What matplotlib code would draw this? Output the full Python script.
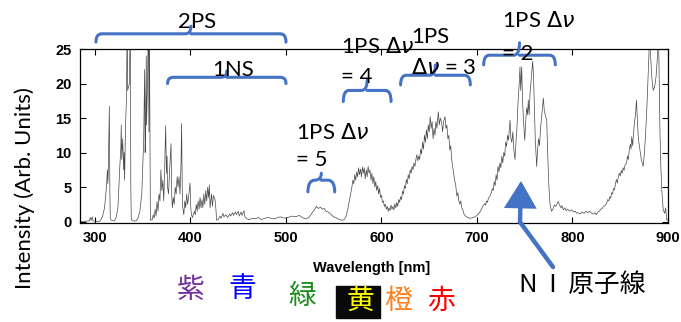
import matplotlib
matplotlib.use("Agg")
import matplotlib.pyplot as plt
from matplotlib.path import Path
from matplotlib.patches import PathPatch, FancyArrowPatch, Rectangle

# emission spectrum (nm, arb. units); values above 25 are clipped
wavelength = [
    285, 290, 294, 295, 296, 297, 298, 300, 304, 306,
    308, 310, 311, 312, 313, 313.5, 314, 315, 315.6, 316,
    317, 320, 322, 324, 325, 326, 327, 327.5, 328, 329,
    330, 330.5, 331, 332, 333, 333.7, 334.2, 336, 337, 337.5,
    338, 340, 343, 345, 347, 349, 350, 351, 352, 352.5,
    353, 353.7, 354, 355, 356, 356.5, 357, 358, 360, 361,
    362, 363, 364, 365, 366, 367, 368, 369, 370, 371,
    372, 373, 374, 374.8, 375.5, 376, 377, 378, 379.6, 380.3,
    381, 382, 383, 384, 385, 386, 387, 388, 389, 390,
    390.7, 391.5, 392, 393, 394, 395, 396, 397, 398, 399.5,
    400.3, 401, 402, 404, 405, 406, 407, 408, 409, 410,
    411, 412, 413, 414, 415, 416, 417, 418, 419, 419.7,
    420.5, 422, 423, 424, 425.7, 426.5, 427.4, 429, 431, 432,
    434, 435, 437, 439, 441, 442, 444, 445, 447, 448,
    450, 451, 453, 454, 456, 457, 459, 462, 465, 468,
    471, 474, 478, 482, 486, 490, 494, 498, 502, 506,
    510, 514, 517, 520, 524, 527, 530, 532, 534, 536,
    538, 540, 542, 544, 546, 548, 550, 553, 556, 559,
    561, 563, 565, 567, 568, 569, 570, 571, 572, 573,
    574, 575, 576, 577, 578, 579, 580, 581, 582, 583,
    584, 585, 586, 587, 588, 589, 590, 591, 592, 593,
    594, 595, 596, 597, 598, 599, 600, 601, 602, 603,
    604, 605, 606, 607, 608, 609, 610, 611, 612, 613,
    614, 615, 616, 617, 618, 619, 620, 621, 622, 623,
    624, 625, 626, 627, 628, 629, 630, 631, 632, 633,
    634, 635, 636, 637, 638, 639, 640, 641, 642, 643,
    644, 645, 646, 647, 648, 649, 650, 651, 652, 653,
    654, 655, 656, 657, 658, 659.5, 660.5, 661.5, 663, 664,
    665, 666.5, 667.5, 668.5, 669.5, 670.5, 671.5, 672.5, 673.5, 674.5,
    675.5, 676.5, 677.5, 679, 680, 681, 682, 683, 684, 685,
    686, 687, 688, 690, 692, 694, 696, 698, 700, 702,
    704, 706, 708, 709, 710, 711, 712, 713.6, 715, 716,
    717, 718, 719, 720, 721, 722, 723, 724, 725, 726,
    727, 728, 729, 730, 731, 732, 733, 734.6, 735.5, 736.5,
    737.5, 738.5, 739.8, 740.8, 741.8, 742.5, 743.3, 744.2, 745, 745.8,
    746.8, 747.6, 748.5, 749.2, 750, 751, 752, 753, 753.7, 754.6,
    755.5, 756.4, 757.4, 758.3, 759.2, 760, 761, 762.5, 763.5, 764.5,
    765.5, 766.5, 767.5, 768.5, 769.5, 770.5, 771.5, 773, 774, 775,
    775.7, 776.5, 778, 779.5, 781, 782.5, 784, 785, 786.5, 788,
    789, 790.4, 792, 793.5, 795, 797, 799, 801, 803, 804.5,
    806, 808, 810, 812, 814, 816, 818, 820, 822, 823.5,
    825, 826.5, 828, 829.5, 831, 832.5, 834, 835.8, 837, 838,
    839, 840, 841, 842, 843, 844, 845, 846, 847, 848,
    849, 850, 851, 852, 853, 854, 855, 856.7, 857.5, 858.5,
    859.5, 860.5, 861.3, 862, 863, 864, 865, 866, 867, 868,
    869, 870, 871, 872, 873, 874, 875, 876, 877, 878,
    879, 880, 881, 881.8, 883, 884.5, 886, 887.5, 889, 889.8,
    890.6, 891.6, 892.5, 893.5, 895, 896.5, 897.5, 898.6, 900,
]
intensity = [
    0.0, 0.05, 0.1, 0.6, 0.2, 0.7, 0.1, 0.05, 0.0, 0.2,
    0.8, 2.0, 3.5, 5.0, 7.5, 5.5, 8.0, 16.7, 4.0, 0.5,
    0.2, 0.1, 0.5, 2.0, 5.0, 8.0, 10.5, 14.0, 9.0, 12.0,
    7.5, 10.0, 6.0, 14.0, 18.0, 30, 19, 20, 30, 5,
    0.3, 0.1, 0.1, 0.5, 1.5, 4.0, 8.0, 12, 22, 10,
    13, 24, 14, 20, 30, 13, 28, 0.2, 0.3, 1.0,
    0.5, 1.8, 0.8, 2.9, 1.5, 4.0, 3.0, 7.5, 4.5, 6.0,
    3.0, 8.0, 13.9, 7.0, 9.5, 5.0, 4.0, 7.0, 11.3, 4.0,
    2.0, 3.5, 2.5, 5.0, 4.0, 6.5, 5.0, 6.5, 4.0, 8.0,
    14.2, 3.0, 2.0, 1.0, 3.0, 2.0, 4.0, 2.5, 3.5, 5.6,
    2.0, 1.0, 0.6, 1.5, 1.0, 2.5, 1.5, 3.0, 1.8, 3.5,
    2.0, 3.2, 2.0, 4.0, 2.5, 4.5, 3.0, 5.0, 3.5, 5.3,
    2.0, 4.0, 2.2, 3.8, 3.2, 2.0, 0.2, 0.3, 0.8, 0.5,
    1.2, 0.7, 1.0, 0.6, 1.1, 0.8, 1.3, 0.9, 1.4, 1.0,
    1.5, 0.8, 1.4, 0.9, 1.6, 0.7, 0.4, 0.3, 0.5, 0.4,
    0.6, 0.3, 0.5, 0.6, 0.4, 0.5, 0.7, 0.5, 0.6, 0.8,
    0.7, 0.9, 0.6, 0.4, 0.6, 1.2, 1.8, 2.2, 1.9, 2.1,
    1.8, 1.9, 1.5, 1.4, 1.2, 0.9, 0.7, 0.5, 0.3, 0.2,
    0.3, 0.8, 2.0, 3.5, 4.2, 5.0, 6.0, 5.5, 6.8, 6.0,
    7.2, 6.5, 7.8, 6.8, 7.6, 6.5, 7.9, 7.0, 7.8, 6.2,
    7.5, 6.5, 8.0, 7.0, 7.5, 6.0, 7.0, 5.5, 6.5, 5.0,
    5.8, 4.5, 5.2, 4.0, 4.8, 3.5, 3.8, 2.8, 3.0, 2.2,
    2.5, 1.8, 2.2, 1.5, 2.0, 1.6, 2.4, 1.8, 2.2, 1.7,
    2.6, 2.0, 2.8, 2.2, 3.2, 2.8, 3.6, 3.2, 4.4, 4.0,
    5.2, 4.8, 6.1, 5.5, 6.8, 6.2, 7.5, 7.0, 8.0, 7.5,
    8.5, 8.0, 9.0, 9.7, 8.8, 9.5, 9.0, 10.5, 9.8, 11.5,
    10.5, 12.5, 11.5, 13.3, 12.0, 14.0, 13.0, 15.2, 13.5, 14.5,
    12.0, 13.5, 12.5, 14.5, 13.5, 15.9, 14.0, 15.0, 14.3, 13.0,
    14.5, 15.2, 13.5, 14.0, 12.0, 12.5, 10.4, 11.0, 9.0, 8.0,
    7.0, 6.0, 5.5, 3.7, 4.2, 3.0, 2.5, 3.0, 2.0, 1.8,
    1.2, 1.0, 0.8, 0.6, 0.5, 0.5, 0.6, 0.7, 0.9, 1.2,
    1.6, 2.2, 2.6, 2.4, 3.0, 2.8, 3.4, 3.7, 4.2, 4.8,
    4.5, 5.8, 5.2, 6.8, 6.0, 8.0, 7.2, 8.5, 7.8, 9.5,
    8.5, 10.0, 9.5, 11.5, 10.9, 12.5, 11.8, 14.7, 12.0, 11.5,
    13.0, 10.5, 9.0, 11.5, 13.5, 16.0, 18.1, 20.0, 22.4, 19.0,
    22.4, 18.0, 15.0, 13.5, 11.8, 14.5, 16.5, 15.5, 17.6, 15.5,
    18.5, 20.0, 21.5, 23.2, 21.0, 17.0, 12.0, 8.0, 10.5, 12.0,
    11.0, 13.5, 15.0, 16.5, 17.9, 16.0, 15.5, 14.7, 10.0, 6.0,
    4.1, 2.5, 1.5, 1.8, 2.4, 2.2, 2.6, 2.9, 2.4, 2.0,
    2.3, 1.7, 2.0, 1.6, 1.8, 1.5, 1.7, 1.4, 1.5, 1.2,
    1.3, 1.1, 1.4, 1.2, 1.5, 1.3, 1.5, 1.2, 1.1, 1.3,
    1.0, 1.4, 1.5, 1.8, 1.9, 2.2, 2.3, 2.7, 3.2, 3.0,
    3.6, 3.4, 4.2, 4.0, 4.8, 4.6, 5.5, 6.1, 5.6, 6.5,
    7.0, 6.6, 7.4, 7.0, 7.8, 7.4, 8.2, 8.5, 9.5, 9.0,
    10.5, 11.2, 10.5, 12.3, 11.0, 13.0, 14.5, 15.5, 17.6, 14.5,
    12.0, 11.0, 10.0, 9.0, 8.5, 8.0, 9.5, 11.5, 14.0, 17.0,
    20.5, 24.0, 30, 24, 21, 19, 19.5, 21, 24, 30,
    22, 12.8, 8, 4.5, 1.7, 1.2, 2.0, 0.3, 0.2,
]

x_ticks = [300, 400, 500, 600, 700, 800, 900]
y_ticks = [0, 5, 10, 15, 20, 25]

# band systems: (start nm, end nm) of the blue braces
band_ranges = {
    "2PS": (301, 500),
    "1NS": (376, 500),
    "dv5": (523, 551),
    "dv4": (560, 610),
    "dv3": (620, 693),
    "dv2": (707, 782),
}

color_words = ["紫", "青", "緑", "黄", "橙", "赤"]
color_codes = ["#7030A0", "#0000FF", "#1E8C1E", "#FFFF00", "#FF7F1E", "#FF0000"]

W, H = 681, 322
BLUE = "#4472C4"
LABEL_FONT = ["Lato", "DejaVu Sans"]
CJK_FONT = ["Noto Sans CJK JP", "DejaVu Sans"]


def fig_xy(px, py):
    # pixel position in the picture -> figure fraction
    return px / W, 1 - py / H


def brace(ax, x0, x1, y_line, y_end, y_notch, r):
    xc = (x0 + x1) / 2
    verts = [(x0, y_end), (x0, y_line), (x0 + r, y_line),
             (xc - r, y_line), (xc, y_line), (xc, y_notch),
             (xc, y_line), (xc + r, y_line),
             (x1 - r, y_line), (x1, y_line), (x1, y_end)]
    codes = [Path.MOVETO, Path.CURVE3, Path.CURVE3,
             Path.LINETO, Path.CURVE3, Path.CURVE3,
             Path.MOVETO, Path.CURVE3,
             Path.LINETO, Path.CURVE3, Path.CURVE3]
    ax.add_patch(PathPatch(Path(verts, codes), facecolor="none", edgecolor=BLUE,
                           lw=2.2, clip_on=False, capstyle="round", zorder=5))


fig = plt.figure(figsize=(W / 100, H / 100), dpi=100)
ax = fig.add_axes([80 / W, 1 - 223 / H, (668 - 80) / W, (223 - 49) / H])

ax.plot(wavelength, intensity, color="#484848", lw=0.5)
ax.set_xlim(284.3, 900)
ax.set_ylim(-0.2, 25)
ax.set_xticks(x_ticks)
ax.set_yticks(y_ticks)
ax.tick_params(direction="in", top=True, right=True, length=4, width=0.8,
               labelsize=10.5, pad=6)
for lab in ax.get_xticklabels() + ax.get_yticklabels():
    lab.set_fontweight("bold")
    lab.set_family("Liberation Sans")
for sp in ax.spines.values():
    sp.set_linewidth(0.9)

# braces over the band systems
x0, x1 = band_ranges["2PS"]
brace(ax, x0, x1, 27.2, 26.0, 28.3, 6)
x0, x1 = band_ranges["1NS"]
brace(ax, x0, x1, 20.9, 20.0, 21.8, 6)
x0, x1 = band_ranges["dv5"]
brace(ax, x0, x1, 6.0, 4.3, 7.0, 7)
x0, x1 = band_ranges["dv4"]
brace(ax, x0, x1, 19.0, 17.4, 20.5, 6)
x0, x1 = band_ranges["dv3"]
brace(ax, x0, x1, 21.2, 19.8, 22.7, 6)
x0, x1 = band_ranges["dv2"]
brace(ax, x0, x1, 24.1, 22.7, 25.9, 6)

dnu = r"$\Delta\nu$"
kw = dict(fontsize=16, family=LABEL_FONT, clip_on=False, zorder=6, va="center")
ax.text(406.8, 28.9, "2PS", ha="center", **kw)
ax.text(444.5, 22.0, "1NS", ha="center", **kw)
ax.text(510.5, 12.8, "1PS " + dnu, ha="left", **kw)
ax.text(510.5, 8.9, "= 5", ha="left", **kw)
ax.text(557.6, 25.3, "1PS " + dnu, ha="left", **kw)
ax.text(557.6, 20.9, "= 4", ha="left", **kw)
ax.text(630.9, 26.7, "1PS", ha="left", **kw)
ax.text(630.9, 22.3, dnu + " = 3", ha="left", **kw)
ax.text(726.2, 29.0, "1PS " + dnu, ha="left", **kw)
ax.text(726.2, 24.3, "= 2", ha="left", **kw)

fig.text(*fig_xy(372, 268), "Wavelength [nm]", ha="center", va="center",
         fontsize=10.5, fontweight="bold", family="Liberation Sans")
fig.text(*fig_xy(25, 188), "Intensity (Arb. Units)", ha="center", va="center",
         rotation=90, fontsize=16, family=LABEL_FONT)

# colour names under the axis
fig.patches.append(Rectangle(fig_xy(336, 318), 44 / W, 32 / H,
                             transform=fig.transFigure, color="#0A0A0A"))
char_pos = [(191, 290), (242, 289), (302, 296), (360, 301), (398, 301), (441, 301)]
for word, col, (px, py) in zip(color_words, color_codes, char_pos):
    fig.text(*fig_xy(px, py), word, color=col, ha="center", va="center",
             fontsize=20, family=CJK_FONT)

fig.text(*fig_xy(582, 285), "N  I  原子線", ha="center", va="center",
         fontsize=18.5, family=CJK_FONT)

arrow_path = Path([fig_xy(553, 267), fig_xy(520, 222), fig_xy(521, 181)],
                  [Path.MOVETO, Path.LINETO, Path.LINETO])
arrow = FancyArrowPatch(path=arrow_path, transform=fig.transFigure,
                        arrowstyle="-|>,head_length=0.75,head_width=0.45",
                        mutation_scale=20, color=BLUE, lw=3.2,
                        joinstyle="miter")
fig.patches.append(arrow)

fig.savefig("out.png", dpi=100)
